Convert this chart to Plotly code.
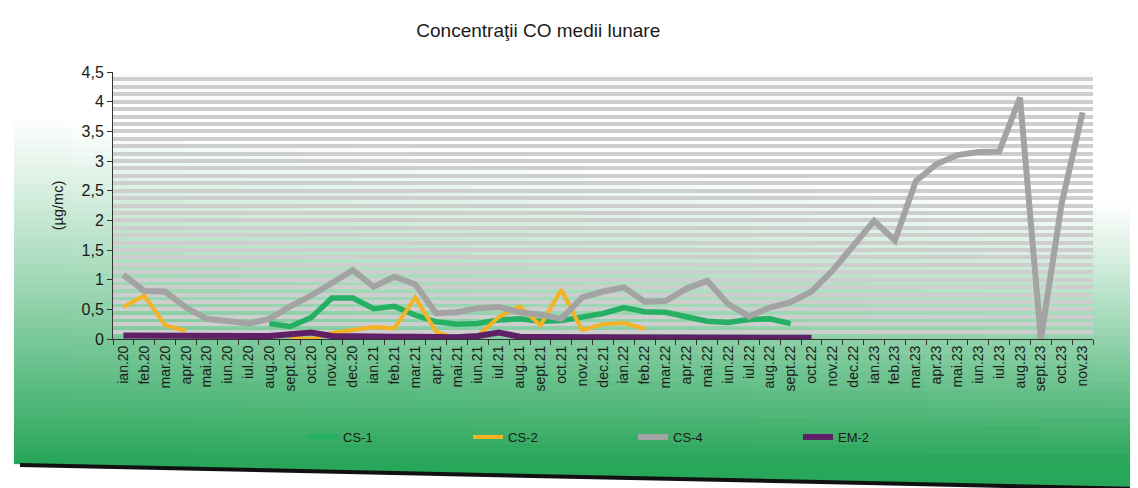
import plotly.graph_objects as go

months = ["ian.20", "feb.20", "mar.20", "apr.20", "mai.20", "iun.20", "iul.20", "aug.20",
          "sept.20", "oct.20", "nov.20", "dec.20", "ian.21", "feb.21", "mar.21", "apr.21",
          "mai.21", "iun.21", "iul.21", "aug.21", "sept.21", "oct.21", "nov.21", "dec.21",
          "ian.22", "feb.22", "mar.22", "apr.22", "mai.22", "iun.22", "iul.22", "aug.22",
          "sept.22", "oct.22", "nov.22", "dec.22", "ian.23", "feb.23", "mar.23", "apr.23",
          "mai.23", "iun.23", "iul.23", "aug.23", "sept.23", "oct.23", "nov.23"]

cs1 = [None] * 7 + [0.26, 0.21, 0.36, 0.69, 0.69, 0.51, 0.55, 0.40, 0.29, 0.25, 0.26, 0.32,
                    0.34, 0.30, 0.31, 0.37, 0.43, 0.53, 0.46, 0.45, 0.38, 0.30, 0.28, 0.33,
                    0.34, 0.26] + [None] * 14

cs2 = [0.54, 0.73, 0.23, 0.14, None, None, None, None, 0.02, 0.0, 0.10, 0.15, 0.20, 0.18,
       0.70, 0.12, 0.0, 0.05, 0.37, 0.55, 0.23, 0.83, 0.15, 0.25, 0.27, 0.17] + [None] * 21

cs4 = [1.08, 0.81, 0.80, 0.53, 0.34, 0.31, 0.26, 0.34, 0.55, 0.73, 0.94, 1.16, 0.88, 1.05,
       0.92, 0.43, 0.45, 0.52, 0.54, 0.45, 0.41, 0.34, 0.70, 0.80, 0.87, 0.63, 0.64, 0.85,
       0.98, 0.59, 0.38, 0.53, 0.62, 0.80, 1.15, 1.56, 1.99, 1.66, 2.66, 2.95, 3.10, 3.15,
       3.16, 4.07, 0.0, 2.29, 3.82]

em2 = [0.06, 0.06, 0.05, 0.05, 0.04, 0.04, 0.04, 0.05, 0.08, 0.11, 0.05, 0.04, 0.04, 0.04,
       0.04, 0.03, 0.03, 0.05, 0.11, 0.04, 0.03, 0.03, 0.03, 0.03, 0.03, 0.03, 0.03, 0.03,
       0.02, 0.02, 0.02, 0.02, 0.02, 0.02] + [None] * 13

y_ticks = [0, 0.5, 1, 1.5, 2, 2.5, 3, 3.5, 4, 4.5]

W, H = 1138, 488
L, R, T, B = 105, 53, 64, 157
PW = W - L - R
PH = H - T - B
FONT = "Liberation Sans, Arial, sans-serif"


def px(x, y):
    return (x - L) / PW, (H - B - y) / PH


fig = go.Figure()
series = [("CS-1", cs1, "#25b063", 5.5), ("CS-2", cs2, "#f5b323", 4),
          ("CS-4", cs4, "#a3a3a3", 6), ("EM-2", em2, "#5e1f66", 6)]
for name, vals, col, w in series:
    fig.add_trace(go.Scatter(x=months, y=vals, name=name, mode="lines",
                             line=dict(color=col, width=w), connectgaps=False))

# background: green gradient panel of the scanned page
shapes = []
gr = (40, 166, 89)
xstep, ystep = 57, 9
for xi in range(6, W, xstep):
    xc = xi + xstep / 2
    ys = 105 + 90 * (xc / W)
    for yi in range(95, 484, ystep):
        yc = yi + ystep / 2
        t = (yc - ys) / (455 - ys)
        t = max(0.0, min(1.0, t)) ** 1.1
        c = tuple(round(255 + (g - 255) * t) for g in gr)
        x0, y0 = px(xi, yi)
        x1, y1 = px(min(xi + xstep, W), yi + ystep)
        shapes.append(dict(type="rect", xref="paper", yref="paper", x0=x0, x1=x1 + 0.001,
                           y0=y1, y1=y0 + 0.001, line=dict(width=0),
                           fillcolor="rgb(%d,%d,%d)" % c, layer="below"))
# white below tilted page edge
a = px(0, 456); b2 = px(W, 480); c2 = px(W, H + 5); d = px(0, H + 5)
shapes.append(dict(type="path", xref="paper", yref="paper",
                   path="M %f,%f L %f,%f L %f,%f L %f,%f Z" % (a + b2 + c2 + d),
                   fillcolor="white", line=dict(width=0), layer="below"))
e = px(12, 457); f = px(W, 481)
shapes.append(dict(type="line", xref="paper", yref="paper", x0=e[0], y0=e[1], x1=f[0], y1=f[1],
                   line=dict(color="#111111", width=4), layer="below"))

fig.update_layout(
    width=W, height=H,
    margin=dict(l=L, r=R, t=T, b=B),
    paper_bgcolor="white",
    plot_bgcolor="#fbfbfb",
    separators=", ",
    font=dict(family=FONT, size=12, color="#222222"),
    title=dict(text="Concentraţii CO medii lunare", x=0.466, xanchor="center",
               yref="container", y=0.955, yanchor="middle",
               font=dict(family=FONT, size=19, color="#1a1a1a")),
    shapes=shapes,
    showlegend=True,
    legend=dict(orientation="h", x=(295 - L) / PW, xanchor="left", y=(H - B - 429) / PH,
                yanchor="middle", bgcolor="rgba(0,0,0,0)", entrywidth=120,
                entrywidthmode="pixels", font=dict(family=FONT, size=13, color="#1a1a1a")),
    xaxis=dict(type="category", tickangle=-90, ticks="outside", ticklen=5, tickcolor="#333",
               tickson="boundaries", showline=True, linecolor="#333", linewidth=1,
               showgrid=False, tickfont=dict(family=FONT, size=14, color="#1a1a1a"),
               range=[-0.5, len(months) - 0.5]),
    yaxis=dict(range=[0, 4.5], tickvals=y_ticks, ticks="outside", ticklen=5, tickcolor="#333",
               showline=True, linecolor="#333", linewidth=1, zeroline=False,
               showgrid=True, gridcolor="#cecece", gridwidth=3.5,
               minor=dict(dtick=0.125, showgrid=True, gridcolor="#cecece", gridwidth=3.5,
                          ticks=""),
               tickfont=dict(family=FONT, size=16, color="#1a1a1a"),
               title=dict(text="(µg/mc)", font=dict(family=FONT, size=14.5, color="#1a1a1a"),
                          standoff=14)),
)

fig.write_html("out.html")
